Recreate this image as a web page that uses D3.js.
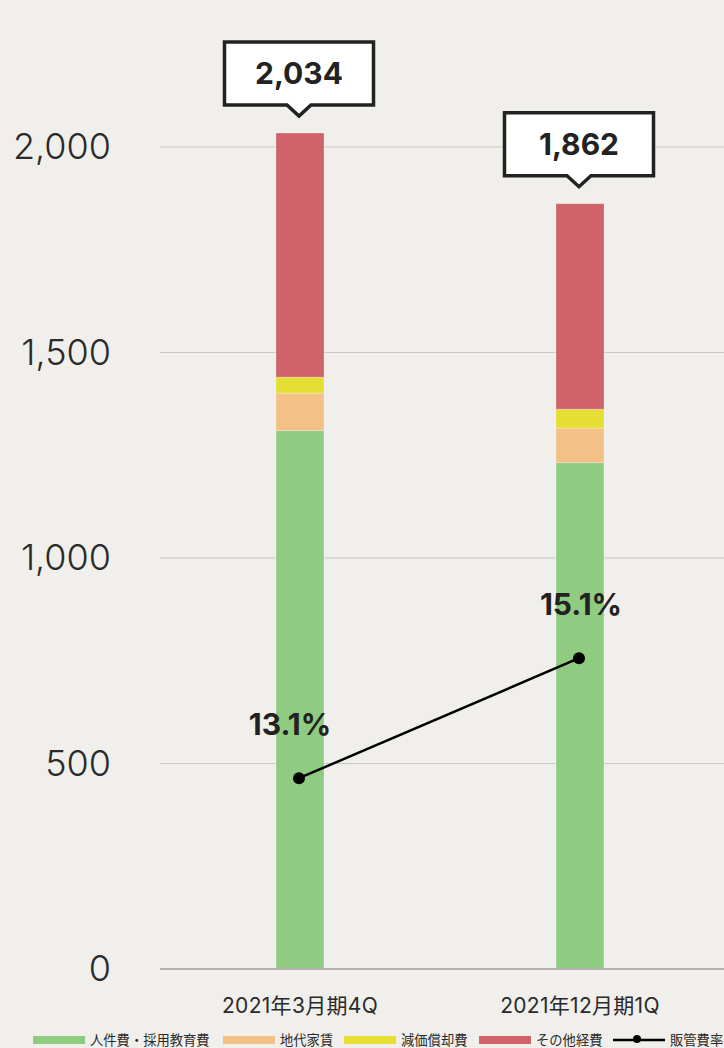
<!DOCTYPE html>
<html>
<head>
<meta charset="utf-8">
<script src="https://cdn.jsdelivr.net/npm/d3@7"></script>
<style>
  html, body { margin: 0; padding: 0; background: #f0efeb; }
  svg { display: block; font-family: "Inter", "Noto Sans CJK JP", sans-serif; }
</style>
</head>
<body>
<svg id="chart"></svg>
<script>
// データ
var categories = ['2021年3月期4Q', '2021年12月期1Q'];
var seriesNames = ['人件費・採用教育費', '地代家賃', '減価償却費', 'その他経費'];
var jinkenhi = [1310, 1232];
var chidai = [91, 84];
var genka = [39, 46];
var sonota = [594, 500];
var totals = [2034, 1862];
var hankanRate = [13.1, 15.1];
var lineName = '販管費率';
var yTicks = [0, 500, 1000, 1500, 2000];

var colors = ['#8fcb80', '#f3c186', '#e6df33', '#d0626a'];

var W = 724, H = 1048;
var margin = {left: 160, right: 4};
var yBottom = 969, yTop2000 = 147;

var svg = d3.select('#chart').attr('width', W).attr('height', H);

var x = d3.scaleBand()
  .domain(categories)
  .range([margin.left, W - margin.right])
  .paddingInner(0.8286)
  .paddingOuter(0.4143);

var y = d3.scaleLinear().domain([0, 2000]).range([yBottom, yTop2000]);
// 販管費率用（非表示の第2軸）
var y2 = d3.scaleLinear().domain([9.92, 23.62]).range([yBottom, yTop2000]);

function cx(i) { return x(categories[i]) + x.bandwidth() / 2 - 1; }

// グリッド線
svg.append('g')
  .selectAll('line')
  .data(yTicks.filter(function(d) { return d > 0; }))
  .enter().append('line')
  .attr('x1', margin.left).attr('x2', W)
  .attr('y1', function(d) { return y(d); })
  .attr('y2', function(d) { return y(d); })
  .attr('stroke', '#c9c7c1')
  .attr('stroke-width', 1);

// y軸ラベル
var yAxis = d3.axisLeft(y).tickValues(yTicks).tickSize(0).tickPadding(0)
  .tickFormat(d3.format(','));
var yg = svg.append('g')
  .attr('transform', 'translate(111,0)')
  .call(yAxis);
yg.select('.domain').remove();
yg.selectAll('text')
  .attr('font-family', 'Inter, sans-serif')
  .attr('font-size', 36)
  .attr('font-weight', 300)
  .attr('fill', '#2a2a2a')
  .attr('dy', '0.32em');

// 積み上げ
var table = categories.map(function(c, i) {
  return {cat: c, s0: jinkenhi[i], s1: chidai[i], s2: genka[i], s3: sonota[i]};
});
var stack = d3.stack().keys(['s0', 's1', 's2', 's3'])(table);

svg.append('g')
  .selectAll('g')
  .data(stack)
  .enter().append('g')
  .attr('fill', function(d, i) { return colors[i]; })
  .selectAll('rect')
  .data(function(d) { return d; })
  .enter().append('rect')
  .attr('x', function(d) { return x(d.data.cat); })
  .attr('y', function(d) { return y(d[1]); })
  .attr('width', x.bandwidth())
  .attr('height', function(d) { return y(d[0]) - y(d[1]); })
  .attr('stroke', 'rgba(255,255,255,0.25)')
  .attr('stroke-width', 1);

// ベースライン
svg.append('line')
  .attr('x1', margin.left).attr('x2', W)
  .attr('y1', y(0)).attr('y2', y(0))
  .attr('stroke', '#b3b1ac')
  .attr('stroke-width', 2);

// x軸ラベル
var xAxis = d3.axisBottom(x).tickSize(0).tickPadding(0);
var xg = svg.append('g')
  .attr('transform', 'translate(0,' + (y(0) + 44) + ')')
  .call(xAxis);
xg.select('.domain').remove();
xg.selectAll('text')
  .attr('font-family', 'Inter, "Noto Sans CJK JP", sans-serif')
  .attr('font-size', 21)
  .attr('letter-spacing', 0.3)
  .attr('fill', '#2a2a2a')
  .attr('dy', 0);

// 合計吹き出し
var boxW = 149, boxH = 63, gap = 17, tipH = 11, tipHalf = 12;
var callouts = svg.append('g')
  .selectAll('g')
  .data(totals)
  .enter().append('g')
  .attr('transform', function(d, i) {
    return 'translate(' + cx(i) + ',' + (y(d) - gap) + ')';
  });
callouts.append('path')
  .attr('d', 'M' + (-boxW / 2) + ',' + (-tipH - boxH) +
    ' H' + (boxW / 2) + ' V' + (-tipH) +
    ' H' + tipHalf + ' L0,0 L' + (-tipHalf) + ',' + (-tipH) +
    ' H' + (-boxW / 2) + ' Z')
  .attr('fill', '#ffffff')
  .attr('stroke', '#222222')
  .attr('stroke-width', 3.5)
  .attr('stroke-linejoin', 'miter');
callouts.append('text')
  .attr('x', 0)
  .attr('y', -tipH - boxH / 2)
  .attr('dy', '0.36em')
  .attr('text-anchor', 'middle')
  .attr('font-size', 30)
  .attr('font-weight', 700)
  .attr('fill', '#222222')
  .text(function(d) { return d3.format(',')(d); });

// 販管費率ライン
var line = d3.line()
  .x(function(d, i) { return cx(i); })
  .y(function(d) { return y2(d); });
svg.append('path')
  .datum(hankanRate)
  .attr('d', line)
  .attr('fill', 'none')
  .attr('stroke', '#000')
  .attr('stroke-width', 2.5);
svg.append('g')
  .selectAll('circle')
  .data(hankanRate)
  .enter().append('circle')
  .attr('cx', function(d, i) { return cx(i); })
  .attr('cy', function(d) { return y2(d); })
  .attr('r', 6)
  .attr('fill', '#000');

var labelShift = [-9, 2];
svg.append('g')
  .selectAll('text')
  .data(hankanRate)
  .enter().append('text')
  .attr('x', function(d, i) { return cx(i) + labelShift[i]; })
  .attr('y', function(d) { return y2(d) - 43; })
  .attr('text-anchor', 'middle')
  .attr('font-size', 30)
  .attr('font-weight', 700)
  .attr('fill', '#222222')
  .text(function(d) { return d.toFixed(1) + '%'; });

// 凡例
var legendX = [33, 223, 344, 479, 613];
var legend = svg.append('g').attr('transform', 'translate(0,1040)');
seriesNames.concat([lineName]).forEach(function(name, i) {
  var g = legend.append('g').attr('transform', 'translate(' + legendX[i] + ',0)');
  if (i < 4) {
    g.append('rect')
      .attr('x', 0).attr('y', -4)
      .attr('width', 52).attr('height', 8)
      .attr('fill', colors[i]);
  } else {
    g.append('line')
      .attr('x1', 0).attr('x2', 52)
      .attr('y1', 0).attr('y2', 0)
      .attr('stroke', '#000').attr('stroke-width', 2.5);
    g.append('circle').attr('cx', 24).attr('cy', -1).attr('r', 4).attr('fill', '#000');
  }
  g.append('text')
    .attr('x', 57)
    .attr('y', 0)
    .attr('dy', '0.35em')
    .attr('font-family', '"Noto Sans CJK JP", sans-serif')
    .attr('font-size', 13.3)
    .attr('fill', '#2a2a2a')
    .text(name);
});
</script>
</body>
</html>
